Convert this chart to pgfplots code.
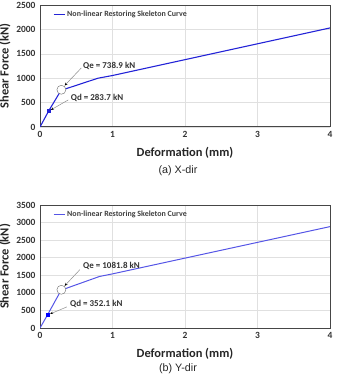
\documentclass[border=0pt]{standalone}
\usepackage{pgfplots}
\pgfplotsset{compat=1.18}
\usepackage{fontspec}
\setmainfont{Carlito}
\newfontfamily\capfont{Liberation Sans}
\usetikzlibrary{arrows.meta}
\definecolor{lineA}{RGB}{35,35,215}
\definecolor{lineB}{RGB}{85,85,230}
\definecolor{frame}{RGB}{70,70,70}
\pgfplotsset{
  myax/.style={
    scale only axis, width=290bp,
    xmin=0, xmax=4, ymin=0,
    xtick={0,1,2,3,4},
    grid=major, major grid style={draw=black!12, line width=0.5pt},
    axis line style={draw=frame, line width=1pt},
    tick style={draw=none},
    tick label style={font=\fontsize{9.5}{11}\selectfont\bfseries, text=black!80},
    /pgf/number format/assume math mode=true,
    /pgf/number format/set thousands separator={},
    xticklabel style={yshift=-1bp},
    yticklabel style={xshift=-1bp},
    xlabel={Deformation (mm)}, ylabel={Shear Force (kN)},
    label style={font=\fontsize{12.5}{14}\selectfont\bfseries, text=black!85},
    xlabel style={at={(axis description cs:0.5,0)}, anchor=center, yshift=-26bp},
    ylabel style={at={(axis description cs:0,0.5)}, anchor=center, rotate=0, yshift=35bp},
    legend style={draw=none, fill=none, at={(0.045,0.92)}, anchor=west,
      font=\fontsize{8}{9}\selectfont\bfseries, text=black!75, inner sep=0pt},
    legend cell align=left,
    legend image code/.code={\draw[##1, line width=1pt] (0bp,0bp) -- (11bp,0bp);},
  }
}
\begin{document}
\begin{tikzpicture}
\useasboundingbox (0,0) rectangle (338bp,374bp);
% top chart
\begin{axis}[myax, at={(40bp,247bp)}, anchor=south west, height=122bp,
  ymax=2500, ytick={0,500,1000,1500,2000,2500}]
\addplot[lineA, line width=1.1pt] coordinates {(0,0) (0.12,330) (0.295,763) (0.35,780) (0.8,1000) (1,1055) (4,2030)};
\addlegendentry{Non-linear Restoring Skeleton Curve}
\addplot[only marks, mark=square*, mark size=1.5pt, lineA, forget plot] coordinates {(0.12,330)};
\addplot[only marks, mark=*, mark size=4.5bp, draw=black!60, fill=white, forget plot] coordinates {(0.295,763)};
\draw[black!45, line width=0.5pt, -{Stealth[black,length=3bp,width=2.5bp]}] (axis cs:0.57,1210) -- (axis cs:0.34,850);
\draw[black!45, line width=0.5pt, -{Stealth[black,length=3bp,width=2.5bp]}] (axis cs:0.39,555) -- (axis cs:0.15,350);
\node[anchor=west, font=\fontsize{9}{10}\selectfont\bfseries, text=black!80, inner sep=1pt] at (axis cs:0.58,1250) {Qe = 738.9 kN};
\node[anchor=west, font=\fontsize{9}{10}\selectfont\bfseries, text=black!80, inner sep=1pt] at (axis cs:0.41,590) {Qd = 283.7 kN};
\end{axis}
\node[font=\capfont\fontsize{10.8}{12}\selectfont, text=black!85] at (178bp,203bp) {(a) X-dir};
% bottom chart
\begin{axis}[myax, at={(40bp,46bp)}, anchor=south west, height=123bp,
  ymax=3500, ytick={0,500,1000,1500,2000,2500,3000,3500}]
\addplot[lineB, line width=1pt] coordinates {(0,0) (0.1,360) (0.295,1088) (0.35,1120) (0.82,1466) (1,1540) (4,2885)};
\addlegendentry{Non-linear Restoring Skeleton Curve}
\addplot[only marks, mark=square*, mark size=1.5pt, blue, forget plot] coordinates {(0.1,370)};
\addplot[only marks, mark=*, mark size=4.5bp, draw=black!60, fill=white, forget plot] coordinates {(0.295,1088)};
\draw[black!45, line width=0.5pt, -{Stealth[black,length=3bp,width=2.5bp]}] (axis cs:0.55,1660) -- (axis cs:0.34,1200);
\draw[black!45, line width=0.5pt, -{Stealth[black,length=3bp,width=2.5bp]}] (axis cs:0.37,600) -- (axis cs:0.14,400);
\node[anchor=west, font=\fontsize{9}{10}\selectfont\bfseries, text=black!80, inner sep=1pt] at (axis cs:0.58,1770) {Qe = 1081.8 kN};
\node[anchor=west, font=\fontsize{9}{10}\selectfont\bfseries, text=black!80, inner sep=1pt] at (axis cs:0.40,690) {Qd = 352.1 kN};
\end{axis}
\node[font=\capfont\fontsize{10.8}{12}\selectfont, text=black!85] at (178bp,5bp) {(b) Y-dir};
\end{tikzpicture}
\end{document}
